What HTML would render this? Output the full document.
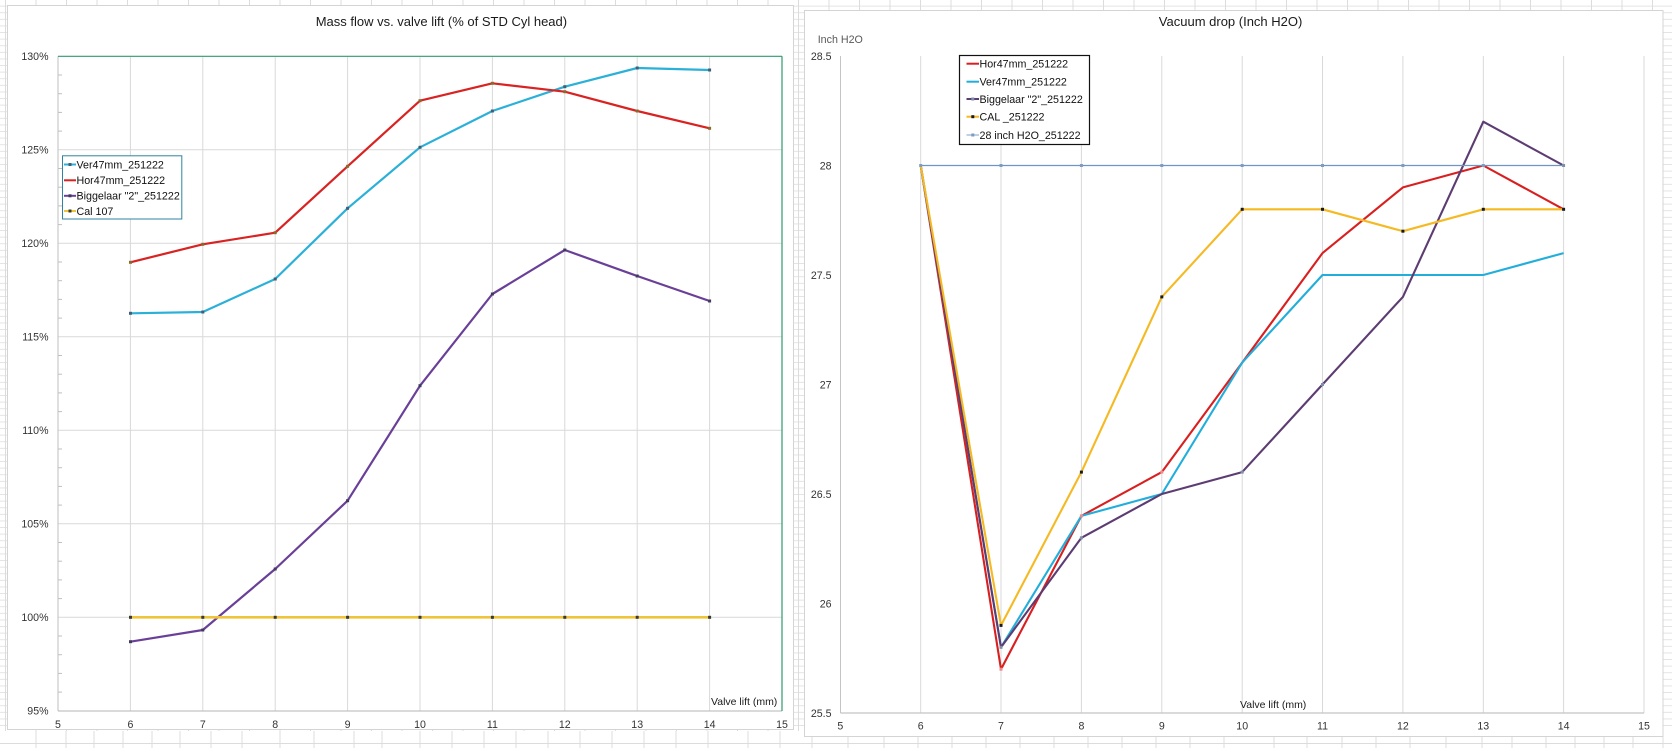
<!DOCTYPE html>
<html>
<head>
<meta charset="utf-8">
<style>
  html,body{margin:0;padding:0;background:#fff;}
  body{width:1672px;height:748px;overflow:hidden;}
  svg{display:block;}
  text{font-family:"Liberation Sans", Arial, sans-serif;}
</style>
</head>
<body>
<svg width="1672" height="748" viewBox="0 0 1672 748" xmlns="http://www.w3.org/2000/svg">
  <defs>
    <pattern id="sheet" x="0" y="0" width="30.5" height="6.6" patternUnits="userSpaceOnUse">
      <rect width="30.5" height="6.6" fill="#ffffff"/>
      <line x1="0" y1="6.1" x2="30.5" y2="6.1" stroke="#e2e2e2" stroke-width="1"/>
      <line x1="5.5" y1="0" x2="5.5" y2="6.6" stroke="#dcdcdc" stroke-width="1"/>
    </pattern>
  </defs>

  <!-- spreadsheet background -->
  <rect x="0" y="0" width="1672" height="748" fill="url(#sheet)"/>
  <rect x="0" y="731" width="1672" height="17" fill="#fff"/>
  <line x1="0" y1="743.5" x2="1672" y2="743.5" stroke="#dcdcdc"/>
  <g stroke="#dcdcdc" stroke-width="1">
    <line x1="36" y1="731" x2="36" y2="748"/><line x1="66" y1="731" x2="66" y2="748"/>
    <line x1="94" y1="731" x2="94" y2="748"/><line x1="123" y1="731" x2="123" y2="748"/>
    <line x1="152" y1="731" x2="152" y2="748"/><line x1="180" y1="731" x2="180" y2="748"/>
    <line x1="211" y1="731" x2="211" y2="748"/><line x1="242" y1="731" x2="242" y2="748"/>
    <line x1="280" y1="731" x2="280" y2="748"/><line x1="314" y1="731" x2="314" y2="748"/>
    <line x1="354" y1="731" x2="354" y2="748"/><line x1="382" y1="731" x2="382" y2="748"/>
    <line x1="420" y1="731" x2="420" y2="748"/><line x1="452" y1="731" x2="452" y2="748"/>
    <line x1="484" y1="731" x2="484" y2="748"/><line x1="516" y1="731" x2="516" y2="748"/>
    <line x1="548" y1="731" x2="548" y2="748"/><line x1="580" y1="731" x2="580" y2="748"/>
    <line x1="612" y1="731" x2="612" y2="748"/><line x1="644" y1="731" x2="644" y2="748"/>
    <line x1="676" y1="731" x2="676" y2="748"/><line x1="708" y1="731" x2="708" y2="748"/>
    <line x1="748" y1="731" x2="748" y2="748"/><line x1="780" y1="731" x2="780" y2="748"/>
    <line x1="812" y1="731" x2="812" y2="748"/><line x1="848" y1="731" x2="848" y2="748"/>
    <line x1="884" y1="731" x2="884" y2="748"/><line x1="918" y1="731" x2="918" y2="748"/>
    <line x1="952" y1="731" x2="952" y2="748"/><line x1="986" y1="731" x2="986" y2="748"/>
    <line x1="1020" y1="731" x2="1020" y2="748"/><line x1="1054" y1="731" x2="1054" y2="748"/>
    <line x1="1088" y1="731" x2="1088" y2="748"/><line x1="1122" y1="731" x2="1122" y2="748"/>
    <line x1="1156" y1="731" x2="1156" y2="748"/><line x1="1190" y1="731" x2="1190" y2="748"/>
    <line x1="1224" y1="731" x2="1224" y2="748"/><line x1="1274" y1="731" x2="1274" y2="748"/>
    <line x1="1307" y1="731" x2="1307" y2="748"/><line x1="1342" y1="731" x2="1342" y2="748"/>
    <line x1="1376" y1="731" x2="1376" y2="748"/><line x1="1410" y1="731" x2="1410" y2="748"/>
    <line x1="1446" y1="731" x2="1446" y2="748"/><line x1="1482" y1="731" x2="1482" y2="748"/>
    <line x1="1512" y1="731" x2="1512" y2="748"/><line x1="1546" y1="731" x2="1546" y2="748"/>
    <line x1="1575" y1="731" x2="1575" y2="748"/><line x1="1604" y1="731" x2="1604" y2="748"/>
    <line x1="1633" y1="731" x2="1633" y2="748"/><line x1="1663" y1="731" x2="1663" y2="748"/>
  </g>

  <!-- ================= LEFT CHART ================= -->
  <rect x="7.5" y="5.5" width="786" height="724" fill="#ffffff" stroke="#d4d4d4" stroke-width="1"/>
  <text x="315.7" y="26" font-size="13" fill="#1a1a1a">Mass flow vs. valve lift (% of STD Cyl head)</text>

  <g stroke="#d9d9d9" stroke-width="1">
    <line x1="58" y1="149.8" x2="782" y2="149.8"/>
    <line x1="58" y1="243.3" x2="782" y2="243.3"/>
    <line x1="58" y1="336.8" x2="782" y2="336.8"/>
    <line x1="58" y1="430.3" x2="782" y2="430.3"/>
    <line x1="58" y1="523.8" x2="782" y2="523.8"/>
    <line x1="58" y1="617.3" x2="782" y2="617.3"/>
    <line x1="130.4" y1="56.3" x2="130.4" y2="711"/>
    <line x1="202.8" y1="56.3" x2="202.8" y2="711"/>
    <line x1="275.2" y1="56.3" x2="275.2" y2="711"/>
    <line x1="347.6" y1="56.3" x2="347.6" y2="711"/>
    <line x1="420" y1="56.3" x2="420" y2="711"/>
    <line x1="492.4" y1="56.3" x2="492.4" y2="711"/>
    <line x1="564.8" y1="56.3" x2="564.8" y2="711"/>
    <line x1="637.2" y1="56.3" x2="637.2" y2="711"/>
    <line x1="709.6" y1="56.3" x2="709.6" y2="711"/>
  </g>
  <g stroke="#bfbfbf" stroke-width="1">
    <line x1="58" y1="75" x2="62" y2="75"/><line x1="58" y1="93.7" x2="62" y2="93.7"/>
    <line x1="58" y1="112.4" x2="62" y2="112.4"/><line x1="58" y1="131.1" x2="62" y2="131.1"/>
    <line x1="58" y1="168.5" x2="62" y2="168.5"/><line x1="58" y1="187.2" x2="62" y2="187.2"/>
    <line x1="58" y1="205.9" x2="62" y2="205.9"/><line x1="58" y1="224.6" x2="62" y2="224.6"/>
    <line x1="58" y1="262" x2="62" y2="262"/><line x1="58" y1="280.7" x2="62" y2="280.7"/>
    <line x1="58" y1="299.4" x2="62" y2="299.4"/><line x1="58" y1="318.1" x2="62" y2="318.1"/>
    <line x1="58" y1="355.5" x2="62" y2="355.5"/><line x1="58" y1="374.2" x2="62" y2="374.2"/>
    <line x1="58" y1="392.9" x2="62" y2="392.9"/><line x1="58" y1="411.6" x2="62" y2="411.6"/>
    <line x1="58" y1="449" x2="62" y2="449"/><line x1="58" y1="467.7" x2="62" y2="467.7"/>
    <line x1="58" y1="486.4" x2="62" y2="486.4"/><line x1="58" y1="505.1" x2="62" y2="505.1"/>
    <line x1="58" y1="542.5" x2="62" y2="542.5"/><line x1="58" y1="561.2" x2="62" y2="561.2"/>
    <line x1="58" y1="579.9" x2="62" y2="579.9"/><line x1="58" y1="598.6" x2="62" y2="598.6"/>
    <line x1="58" y1="636" x2="62" y2="636"/><line x1="58" y1="654.7" x2="62" y2="654.7"/>
    <line x1="58" y1="673.4" x2="62" y2="673.4"/><line x1="58" y1="692.1" x2="62" y2="692.1"/>
  </g>
  <line x1="58" y1="56.3" x2="58" y2="711" stroke="#bfbfbf" stroke-width="1"/>
  <line x1="58" y1="711" x2="782" y2="711" stroke="#b5b5b5" stroke-width="1"/>
  <line x1="58" y1="56.3" x2="782" y2="56.3" stroke="#2e9a70" stroke-width="1.2"/>
  <line x1="782" y1="56.3" x2="782" y2="711" stroke="#2e9a70" stroke-width="1.2"/>

  <g font-size="10.6" fill="#333" text-anchor="end">
    <text x="48.5" y="60.1">130%</text>
    <text x="48.5" y="153.6">125%</text>
    <text x="48.5" y="247.1">120%</text>
    <text x="48.5" y="340.6">115%</text>
    <text x="48.5" y="434.1">110%</text>
    <text x="48.5" y="527.6">105%</text>
    <text x="48.5" y="621.1">100%</text>
    <text x="48.5" y="714.6">95%</text>
  </g>
  <g font-size="10.6" fill="#333" text-anchor="middle">
    <text x="58" y="728">5</text>
    <text x="130.4" y="728">6</text>
    <text x="202.8" y="728">7</text>
    <text x="275.2" y="728">8</text>
    <text x="347.6" y="728">9</text>
    <text x="420" y="728">10</text>
    <text x="492.4" y="728">11</text>
    <text x="564.8" y="728">12</text>
    <text x="637.2" y="728">13</text>
    <text x="709.6" y="728">14</text>
    <text x="782" y="728">15</text>
  </g>
  <text x="711" y="705" font-size="10.5" fill="#1a1a1a">Valve lift (mm)</text>

  <g fill="none" stroke-width="2.2" stroke-linejoin="round">
    <polyline stroke="#2bb0d8" points="130.4,313.3 202.8,312 275.2,279 347.6,208.3 420,147.3 492.4,111 564.8,86.7 637.2,68 709.6,70"/>
    <polyline stroke="#d92222" points="130.4,262.3 202.8,244.3 275.2,232.7 347.6,166.3 420,100.7 492.4,83.3 564.8,91.7 637.2,111 709.6,128.3"/>
    <polyline stroke="#6a3f98" points="130.4,641.7 202.8,630 275.2,569 347.6,500.7 420,385.7 492.4,294 564.8,250 637.2,276 709.6,301"/>
    <polyline stroke="#f0c43a" stroke-width="2.6" points="130.4,617.3 709.6,617.3"/>
  </g>
  <g fill="#3d5f78">
    <rect x="129" y="311.8" width="3" height="3"/><rect x="201.3" y="310.5" width="3" height="3"/>
    <rect x="273.7" y="277.5" width="3" height="3"/><rect x="346.1" y="206.8" width="3" height="3"/>
    <rect x="418.5" y="145.8" width="3" height="3"/><rect x="490.9" y="109.5" width="3" height="3"/>
    <rect x="563.3" y="85.2" width="3" height="3"/><rect x="635.7" y="66.5" width="3" height="3"/>
    <rect x="708.1" y="68.5" width="3" height="3"/>
  </g>
  <g fill="#8a6a2a">
    <rect x="129" y="260.8" width="3" height="3"/><rect x="201.3" y="242.8" width="3" height="3"/>
    <rect x="273.7" y="231.2" width="3" height="3"/><rect x="346.1" y="164.8" width="3" height="3"/>
    <rect x="418.5" y="99.2" width="3" height="3"/><rect x="490.9" y="81.8" width="3" height="3"/>
    <rect x="563.3" y="90.2" width="3" height="3"/><rect x="635.7" y="109.5" width="3" height="3"/>
    <rect x="708.1" y="126.8" width="3" height="3"/>
  </g>
  <g fill="#3f3a5e">
    <rect x="129" y="640.2" width="3" height="3"/><rect x="201.3" y="628.5" width="3" height="3"/>
    <rect x="273.7" y="567.5" width="3" height="3"/><rect x="346.1" y="499.2" width="3" height="3"/>
    <rect x="418.5" y="384.2" width="3" height="3"/><rect x="490.9" y="292.5" width="3" height="3"/>
    <rect x="563.3" y="248.5" width="3" height="3"/><rect x="635.7" y="274.5" width="3" height="3"/>
    <rect x="708.1" y="299.5" width="3" height="3"/>
  </g>
  <g fill="#3a3a2a">
    <rect x="129" y="615.8" width="3" height="3"/><rect x="201.3" y="615.8" width="3" height="3"/>
    <rect x="273.7" y="615.8" width="3" height="3"/><rect x="346.1" y="615.8" width="3" height="3"/>
    <rect x="418.5" y="615.8" width="3" height="3"/><rect x="490.9" y="615.8" width="3" height="3"/>
    <rect x="563.3" y="615.8" width="3" height="3"/><rect x="635.7" y="615.8" width="3" height="3"/>
    <rect x="708.1" y="615.8" width="3" height="3"/>
  </g>

  <rect x="62.5" y="155.8" width="119.3" height="63.2" fill="#ffffff" stroke="#2f83a0" stroke-width="1"/>
  <g stroke-width="2">
    <line x1="64" y1="164.5" x2="76" y2="164.5" stroke="#2bb0d8"/>
    <line x1="64" y1="180.3" x2="76" y2="180.3" stroke="#d92222"/>
    <line x1="64" y1="195.8" x2="76" y2="195.8" stroke="#6a3f98"/>
    <line x1="64" y1="211" x2="76" y2="211" stroke="#f0c43a"/>
  </g>
  <rect x="68.5" y="163" width="3" height="3" fill="#3d5f78"/>
  <rect x="68.5" y="194.3" width="3" height="3" fill="#3f3a5e"/>
  <rect x="68.5" y="209.5" width="3" height="3" fill="#3a3a2a"/>
  <g font-size="10.7" fill="#111">
    <text x="76.5" y="168.4">Ver47mm_251222</text>
    <text x="76.5" y="184.2">Hor47mm_251222</text>
    <text x="76.5" y="199.7">Biggelaar "2"_251222</text>
    <text x="76.5" y="214.9">Cal 107</text>
  </g>

  <!-- ================= RIGHT CHART ================= -->
  <rect x="804.5" y="10.5" width="858.5" height="726" fill="#ffffff" stroke="#d4d4d4" stroke-width="1"/>
  <text x="1158.8" y="26" font-size="13" fill="#1a1a1a">Vacuum drop (Inch H2O)</text>
  <text x="817.7" y="43" font-size="10.7" fill="#595959">Inch H2O</text>

  <g stroke="#d9d9d9" stroke-width="1">
    <line x1="920.7" y1="56" x2="920.7" y2="713"/>
    <line x1="1001" y1="56" x2="1001" y2="713"/>
    <line x1="1081.4" y1="56" x2="1081.4" y2="713"/>
    <line x1="1161.8" y1="56" x2="1161.8" y2="713"/>
    <line x1="1242.2" y1="56" x2="1242.2" y2="713"/>
    <line x1="1322.5" y1="56" x2="1322.5" y2="713"/>
    <line x1="1402.9" y1="56" x2="1402.9" y2="713"/>
    <line x1="1483.3" y1="56" x2="1483.3" y2="713"/>
    <line x1="1563.6" y1="56" x2="1563.6" y2="713"/>
    <line x1="1644" y1="56" x2="1644" y2="713"/>
  </g>
  <line x1="840.5" y1="56" x2="840.5" y2="713" stroke="#c4c4c4" stroke-width="1"/>
  <line x1="840.5" y1="713" x2="1644" y2="713" stroke="#c4c4c4" stroke-width="1.2"/>

  <g font-size="10.6" fill="#333" text-anchor="end">
    <text x="831.5" y="59.8">28.5</text>
    <text x="831.5" y="169.3">28</text>
    <text x="831.5" y="278.8">27.5</text>
    <text x="831.5" y="388.3">27</text>
    <text x="831.5" y="497.8">26.5</text>
    <text x="831.5" y="607.3">26</text>
    <text x="831.5" y="716.8">25.5</text>
  </g>
  <g font-size="10.6" fill="#333" text-anchor="middle">
    <text x="840.3" y="729.5">5</text>
    <text x="920.7" y="729.5">6</text>
    <text x="1001" y="729.5">7</text>
    <text x="1081.4" y="729.5">8</text>
    <text x="1161.8" y="729.5">9</text>
    <text x="1242.2" y="729.5">10</text>
    <text x="1322.5" y="729.5">11</text>
    <text x="1402.9" y="729.5">12</text>
    <text x="1483.3" y="729.5">13</text>
    <text x="1563.6" y="729.5">14</text>
    <text x="1644" y="729.5">15</text>
  </g>
  <text x="1240" y="708" font-size="10.5" fill="#1a1a1a">Valve lift (mm)</text>

  <g fill="none" stroke-width="2.1" stroke-linejoin="round">
    <polyline stroke="#d91f1f" points="920.7,165.5 1001,669.2 1081.4,515.9 1161.8,472.1 1242.2,362.6 1322.5,253.1 1402.9,187.4 1483.3,165.5 1563.6,209.3"/>
    <polyline stroke="#22aedb" points="920.7,165.5 1001,647.3 1081.4,515.9 1161.8,494 1242.2,362.6 1322.5,275 1402.9,275 1483.3,275 1563.6,253.1"/>
    <polyline stroke="#5c3c72" points="920.7,165.5 1001,647.3 1081.4,537.8 1161.8,494 1242.2,472.1 1322.5,384.5 1402.9,296.9 1483.3,121.7 1563.6,165.5"/>
    <polyline stroke="#f5b922" points="920.7,165.5 1001,625.4 1081.4,472.1 1161.8,296.9 1242.2,209.3 1322.5,209.3 1402.9,231.2 1483.3,209.3 1563.6,209.3"/>
    <polyline stroke="#6f95c2" stroke-width="1.2" points="920.7,165.5 1563.6,165.5"/>
  </g>
  <g fill="#f08a8a">
    <rect x="999.5" y="667.7" width="3" height="3"/>
    <rect x="1079.9" y="514.4" width="3" height="3"/>
    <rect x="1160.3" y="470.6" width="3" height="3"/>
  </g>
  <g fill="#7f8fa8">
    <rect x="999.5" y="645.8" width="3" height="3"/>
    <rect x="1079.9" y="536.3" width="3" height="3"/>
    <rect x="1240.7" y="470.6" width="3" height="3"/>
    <rect x="1321" y="383" width="3" height="3"/>
    <rect x="1562.1" y="164" width="3" height="3"/>
  </g>
  <g fill="#1a1a1a">
    <rect x="999.5" y="623.9" width="3" height="3"/><rect x="1079.9" y="470.6" width="3" height="3"/>
    <rect x="1160.3" y="295.4" width="3" height="3"/><rect x="1240.7" y="207.8" width="3" height="3"/>
    <rect x="1321" y="207.8" width="3" height="3"/><rect x="1401.4" y="229.7" width="3" height="3"/>
    <rect x="1481.8" y="207.8" width="3" height="3"/><rect x="1562.1" y="207.8" width="3" height="3"/>
  </g>
  <g fill="#7d9cc4">
    <rect x="919.2" y="164" width="3" height="3"/><rect x="999.5" y="164" width="3" height="3"/>
    <rect x="1079.9" y="164" width="3" height="3"/><rect x="1160.3" y="164" width="3" height="3"/>
    <rect x="1240.7" y="164" width="3" height="3"/><rect x="1321" y="164" width="3" height="3"/>
    <rect x="1401.4" y="164" width="3" height="3"/><rect x="1481.8" y="164" width="3" height="3"/>
  </g>

  <rect x="959.5" y="55.5" width="130" height="89" fill="#ffffff" stroke="#111" stroke-width="1.2"/>
  <g stroke-width="2">
    <line x1="966.5" y1="63.7" x2="979" y2="63.7" stroke="#d91f1f"/>
    <line x1="966.5" y1="81.7" x2="979" y2="81.7" stroke="#22aedb"/>
    <line x1="966.5" y1="99" x2="979" y2="99" stroke="#5c3c72"/>
    <line x1="966.5" y1="116.7" x2="979" y2="116.7" stroke="#f5b922"/>
    <line x1="966.5" y1="135" x2="979" y2="135" stroke="#8fb0d6" stroke-width="1.2"/>
  </g>
  <rect x="971.3" y="97.5" width="3" height="3" fill="#7f8fa8"/>
  <rect x="971.3" y="115.2" width="3" height="3" fill="#1a1a1a"/>
  <rect x="971.3" y="133.5" width="3" height="3" fill="#7d9cc4"/>
  <g font-size="10.7" fill="#111">
    <text x="979.5" y="67.6">Hor47mm_251222</text>
    <text x="979.5" y="85.6">Ver47mm_251222</text>
    <text x="979.5" y="102.9">Biggelaar "2"_251222</text>
    <text x="979.5" y="120.6">CAL _251222</text>
    <text x="979.5" y="138.9">28 inch H2O_251222</text>
  </g>
</svg>
</body>
</html>
